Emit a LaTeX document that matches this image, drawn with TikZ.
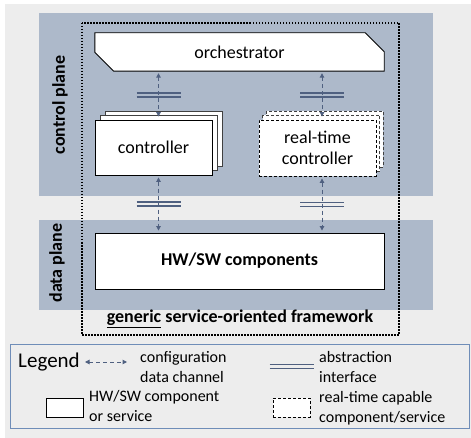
\documentclass[tikz,border=0pt]{standalone}
\usepackage{fontspec}
\setmainfont{Carlito}
\usetikzlibrary{arrows.meta,calc}

\definecolor{paper}{HTML}{EDEDED}
\definecolor{plane}{HTML}{ADB9CA}
\definecolor{chan}{HTML}{4F6080}
\definecolor{legendline}{HTML}{6F8DB8}

\tikzset{
  box/.style={draw=black,fill=white,line width=0.9pt,inner sep=0pt},
  rtbox/.style={box,dash pattern=on 3pt off 2pt},
  backbox/.style={draw=black!75,fill=white,line width=0.8pt},
  channel/.style={draw=chan,line width=1pt,dash pattern=on 4pt off 3pt,
    {Triangle[length=4.5pt,width=4.5pt]}-{Triangle[length=4.5pt,width=4.5pt]}},
  iface/.style={draw=chan,line width=1.5pt},
  maintext/.style={font=\fontsize{18}{21}\selectfont},
  boldtext/.style={font=\fontsize{18}{21}\selectfont\bfseries},
  legtext/.style={font=\fontsize{16}{19.5}\selectfont,align=left,anchor=west,inner sep=0pt},
  ifacebar/.pic={\draw[iface] (-22,-2) -- (22,-2) (-22,2) -- (22,2);}
}

\begin{document}
\begin{tikzpicture}[x=1pt,y=-1pt]
\useasboundingbox (0,0) rectangle (471,438);
\fill[paper] (5,4) rectangle (471,438);

% planes
\fill[plane] (39,13) rectangle (433,196);
\fill[plane] (39,220) rectangle (433,310);
\node[boldtext,rotate=90] (cplab) at (60,105) {control plane};
\node[boldtext,rotate=90] (dplab) at (57,263) {data plane};

% framework boundary
\draw[line width=1.5pt,dash pattern=on 1.5pt off 1.5pt] (82,23) rectangle (399,335);
\node[boldtext] (fw) at (240,319) {\underline{generic} service-oriented framework};

% orchestrator with chamfered corners
\node[maintext,minimum width=289pt,minimum height=38pt,inner sep=0pt] (orch) at (239.5,52) {};
\draw[fill=white,line width=0.9pt]
  (orch.north west) -- ($(orch.north east)+(-19,0)$) -- ($(orch.north east)+(0,19)$)
  -- (orch.south east) -- ($(orch.south west)+(19,0)$) -- ($(orch.south west)+(0,-19)$) -- cycle;
\node[maintext] (orchlabel) at (orch.center) {orchestrator};

% controller stack
\draw[backbox] (105,111) rectangle (222,166);
\draw[backbox] (100,115.5) rectangle (217,170.5);
\node[box,maintext,minimum width=117pt,minimum height=55pt] (ctrl) at (153.5,147.5) {controller};

% real-time controller stack
\draw[backbox,dash pattern=on 3pt off 2pt] (266,111) rectangle (383,167);
\draw[backbox,dash pattern=on 3pt off 2pt] (262.5,115.5) rectangle (379.5,171.5);
\node[rtbox,maintext,minimum width=117pt,minimum height=56pt,align=center] (rtc) at (317.5,148) {real-time\\controller};

% data plane components
\node[box,boldtext,minimum width=289pt,minimum height=56pt] (hw) at (239.5,261) {HW/SW components};

% channels
\coordinate (c1t) at ([xshift=5pt]ctrl.north);
\coordinate (c1b) at ([xshift=5pt]ctrl.south);
\coordinate (c2t) at ([xshift=4.5pt]rtc.north);
\coordinate (c2b) at ([xshift=4.5pt]rtc.south);

\coordinate (a1s) at ($(c1t |- orch.south)+(0,2)$);
\coordinate (a1e) at ($(c1t)+(0,-3)$);
\coordinate (a2s) at ($(c2t |- orch.south)+(0,2)$);
\coordinate (a2e) at ($(c2t)+(0,-3)$);
\coordinate (b1s) at ($(c1b)+(0,2)$);
\coordinate (b1e) at ($(c1b |- hw.north)+(0,-2)$);
\coordinate (b2s) at ($(c2b)+(0,2)$);
\coordinate (b2e) at ($(c2b |- hw.north)+(0,-2)$);

\draw[channel] (a1s) -- (a1e);
\draw[channel] (a2s) -- (a2e);
\draw[channel] (b1s) -- (b1e);
\draw[channel] (b2s) -- (b2e);

\pic at ($(a1s)!0.5!(a1e)$) {ifacebar};
\pic at ($(a2s)!0.5!(a2e)$) {ifacebar};
\pic at ($(b1s)!0.5!(b1e)$) {ifacebar};
\pic at ($(b2s)!0.5!(b2e)$) {ifacebar};

% legend
\draw[legendline,fill=paper,line width=0.9pt] (10,344) rectangle (469,428);
\node[font=\fontsize{21}{24}\selectfont] (legend) at (49,362) {Legend};
\coordinate (k1a) at (85,362);
\coordinate (k1b) at (127,362);
\draw[channel] (k1a) -- (k1b);
\node[legtext] (k1t) at (140,367) {configuration\\data channel};

\node[box,minimum width=37pt,minimum height=19pt] (k2) at (64.5,407.5) {};
\node[legtext] (k2t) at (89,406) {HW/SW component\\or service};

\pic at (291.5,366.5) {ifacebar};
\node[legtext] (k3t) at (319,367) {abstraction\\interface};

\node[rtbox,minimum width=37pt,minimum height=19pt] (k4) at (291.5,407.5) {};
\node[legtext] (k4t) at (319,408) {real-time capable\\component/service};
\end{tikzpicture}
\end{document}
